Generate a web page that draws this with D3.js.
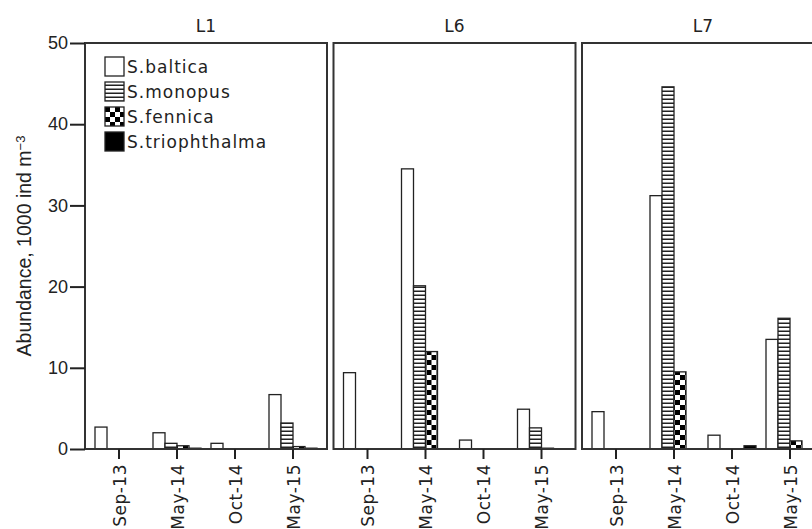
<!DOCTYPE html>
<html>
<head>
<meta charset="utf-8">
<script src="https://cdn.jsdelivr.net/npm/d3@7"></script>
<style>
  body { margin: 0; background: #fff; }
  svg { display: block; }
</style>
</head>
<body>
<script>
const panels = ["L1", "L6", "L7"];
const dates = ["Sep-13", "May-14", "Oct-14", "May-15"];
const species = ["S.baltica", "S.monopus", "S.fennica", "S.triophthalma"];
const yTicks = [0, 10, 20, 30, 40, 50];

// one row per panel (L1, L6, L7), one value per date
const baltica = [[2.7, 2.0, 0.7, 6.7], [9.4, 34.5, 1.1, 4.9], [4.6, 31.2, 1.7, 13.5]];
const monopus = [[0, 0.7, 0, 3.2], [0, 20.1, 0, 2.6], [0, 44.6, 0, 16.1]];
const fennica = [[0, 0.4, 0, 0.3], [0, 12.0, 0, 0.1], [0, 9.5, 0, 1.0]];
const triophthalma = [[0, 0.1, 0, 0.1], [0, 0, 0, 0], [0, 0, 0.4, 0]];
const seriesValues = [baltica, monopus, fennica, triophthalma];

const W = 812, H = 529;
const plotTop = 43, plotBottom = 449;
const panelLeft = 85, panelStep = 248.5, panelW = 242;
const ink = "#222";

const svg = d3.select("body").append("svg")
  .attr("width", W)
  .attr("height", H)
  .style("font-family", "'DejaVu Sans', sans-serif");

// fill patterns
const defs = svg.append("defs");
const stripes = defs.append("pattern")
  .attr("id", "stripes")
  .attr("patternUnits", "userSpaceOnUse")
  .attr("width", 4).attr("height", 4);
stripes.append("rect").attr("width", 4).attr("height", 4).attr("fill", "#fff");
stripes.append("rect").attr("y", 2.5).attr("width", 4).attr("height", 1.5).attr("fill", ink);

const checker = defs.append("pattern")
  .attr("id", "checker")
  .attr("patternUnits", "userSpaceOnUse")
  .attr("width", 10).attr("height", 10);
checker.append("rect").attr("width", 10).attr("height", 10).attr("fill", "#fff");
checker.append("rect").attr("width", 5).attr("height", 5).attr("fill", "#000");
checker.append("rect").attr("x", 5).attr("y", 5).attr("width", 5).attr("height", 5).attr("fill", "#000");

const fills = d3.scaleOrdinal()
  .domain(species)
  .range(["#fff", "url(#stripes)", "url(#checker)", "#000"]);

const y = d3.scaleLinear().domain([0, 50]).range([plotBottom, plotTop]);

panels.forEach((p, pi) => {
  const left = panelLeft + pi * panelStep;
  const g = svg.append("g");

  const x = d3.scaleBand()
    .domain(dates)
    .range([left + 5, left + panelW - 5]);
  const x1 = d3.scaleBand()
    .domain(species)
    .range([x.bandwidth() / 2 - 24, x.bandwidth() / 2 + 24]);

  // bars
  dates.forEach((d, di) => {
    g.append("g")
      .attr("transform", `translate(${x(d)},0)`)
      .selectAll("rect")
      .data(species.map((s, si) => ({ s, v: seriesValues[si][pi][di] })))
      .enter().append("rect")
      .attr("x", (e) => x1(e.s))
      .attr("width", x1.bandwidth())
      .attr("y", (e) => y(e.v))
      .attr("height", (e) => y(0) - y(e.v))
      .attr("fill", (e) => fills(e.s))
      .attr("stroke", ink)
      .attr("stroke-width", 1.3);
  });

  // frame
  g.append("rect")
    .attr("x", left)
    .attr("y", plotTop)
    .attr("width", panelW)
    .attr("height", plotBottom - plotTop)
    .attr("fill", "none")
    .attr("stroke", "#333")
    .attr("stroke-width", 2);

  // x axis
  const xa = g.append("g")
    .attr("transform", `translate(0,${plotBottom})`)
    .call(d3.axisBottom(x).tickSize(10).tickSizeOuter(0));
  xa.select(".domain").remove();
  xa.selectAll(".tick line").attr("stroke", ink).attr("stroke-width", 2);
  xa.selectAll(".tick text")
    .attr("transform", "rotate(-90)")
    .attr("x", -15)
    .attr("y", 0)
    .attr("dy", "0.4em")
    .attr("text-anchor", "end")
    .attr("fill", ink)
    .style("font-family", "'DejaVu Sans', sans-serif")
    .style("font-size", "17px")
    .style("letter-spacing", "0.5px");

  // panel title
  svg.append("text")
    .attr("x", left + panelW / 2)
    .attr("y", 32)
    .attr("text-anchor", "middle")
    .attr("fill", ink)
    .style("font-size", "17px")
    .text(p);
});

// y axis
const ya = svg.append("g")
  .attr("transform", `translate(${panelLeft},0)`)
  .call(d3.axisLeft(y).tickValues(yTicks).tickSize(15).tickPadding(2));
ya.select(".domain").remove();
ya.selectAll(".tick line").attr("stroke", ink).attr("stroke-width", 2);
ya.selectAll(".tick text")
  .attr("fill", ink)
  .style("font-family", "'Liberation Sans', Arial, sans-serif")
  .style("font-size", "18px");

// y axis title
const yTitle = svg.append("text")
  .attr("transform", `translate(31,${(plotTop + plotBottom) / 2}) rotate(-90)`)
  .attr("text-anchor", "middle")
  .attr("fill", ink)
  .style("font-family", "'Liberation Sans', Arial, sans-serif")
  .style("font-size", "19.5px");
yTitle.append("tspan").text("Abundance, 1000 ind m");
yTitle.append("tspan").attr("dy", "-0.45em").style("font-size", "13px").text("−3");

// legend
const legend = svg.append("g")
  .attr("transform", "translate(105,57)");
const item = legend.selectAll("g")
  .data(species)
  .enter().append("g")
  .attr("transform", (d, i) => `translate(0,${i * 25})`);
item.append("rect")
  .attr("width", 19)
  .attr("height", 19)
  .attr("fill", (d) => fills(d))
  .attr("stroke", ink)
  .attr("stroke-width", 1.3);
item.append("text")
  .attr("x", 22)
  .attr("y", 16)
  .attr("fill", ink)
  .style("font-size", "17px")
  .style("letter-spacing", "1px")
  .text((d) => d);
</script>
</body>
</html>
